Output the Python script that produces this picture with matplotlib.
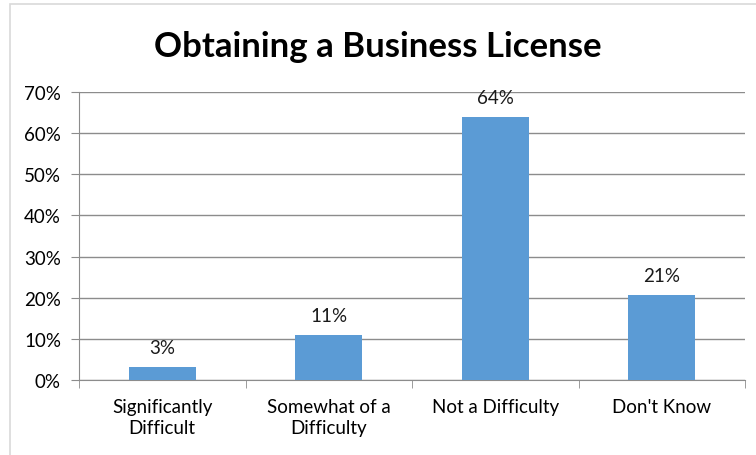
import numpy as np
import matplotlib.pyplot as plt
from matplotlib.patches import Rectangle

categories = ['Significantly\nDifficult', 'Somewhat of a\nDifficulty', 'Not a Difficulty', "Don't Know"]
shares = [0.032, 0.109, 0.64, 0.207]
yticks = [0, 0.1, 0.2, 0.3, 0.4, 0.5, 0.6, 0.7]

plt.rcParams['font.family'] = ['Lato', 'DejaVu Sans']

fig = plt.figure(figsize=(7.56, 4.56), dpi=100)
W, H = 756, 456

# chart border (runs off the right/bottom edge)
fig.patches.append(Rectangle((10 / W, -0.1), 1.2, 1 - 5 / H + 0.1, transform=fig.transFigure,
                             fill=False, edgecolor='#d9d9d9', linewidth=1.2))

ax = fig.add_axes([79 / W, 1 - 381 / H, (745 - 79) / W, (381 - 93) / H])
x = np.arange(len(categories))
bars = ax.bar(x, shares, width=0.4, color='#5b9bd5', zorder=3)

for xi, v in zip(x, shares):
    ax.text(xi, v + 0.027, f'{v:.0%}', ha='center', va='bottom', fontsize=13.5, color='#1a1a1a')

ax.set_xlim(-0.5, len(categories) - 0.5)
ax.set_ylim(0, 0.7)
ax.set_yticks(yticks)
ax.set_yticklabels([f'{t:.0%}' for t in yticks], fontsize=13.5)
ax.yaxis.grid(True, color='#8c8c8c', linewidth=1, zorder=0)

ax.set_xticks(x)
ax.set_xticklabels(categories, fontsize=13.5, linespacing=1.25)
ax.tick_params(axis='x', length=0, pad=13)
ax.set_xticks(np.arange(len(categories) + 1) - 0.5, minor=True)
ax.tick_params(axis='x', which='minor', length=6, color='#8c8c8c')
ax.tick_params(axis='y', length=6, color='#8c8c8c', pad=7)

for s in ['top', 'right']:
    ax.spines[s].set_visible(False)
for s in ['left', 'bottom']:
    ax.spines[s].set_color('#8c8c8c')

fig.text(0.5, 1 - 47 / H, 'Obtaining a Business License', ha='center', va='center',
         fontsize=25, fontweight='bold')

fig.savefig('out.png', dpi=100)
